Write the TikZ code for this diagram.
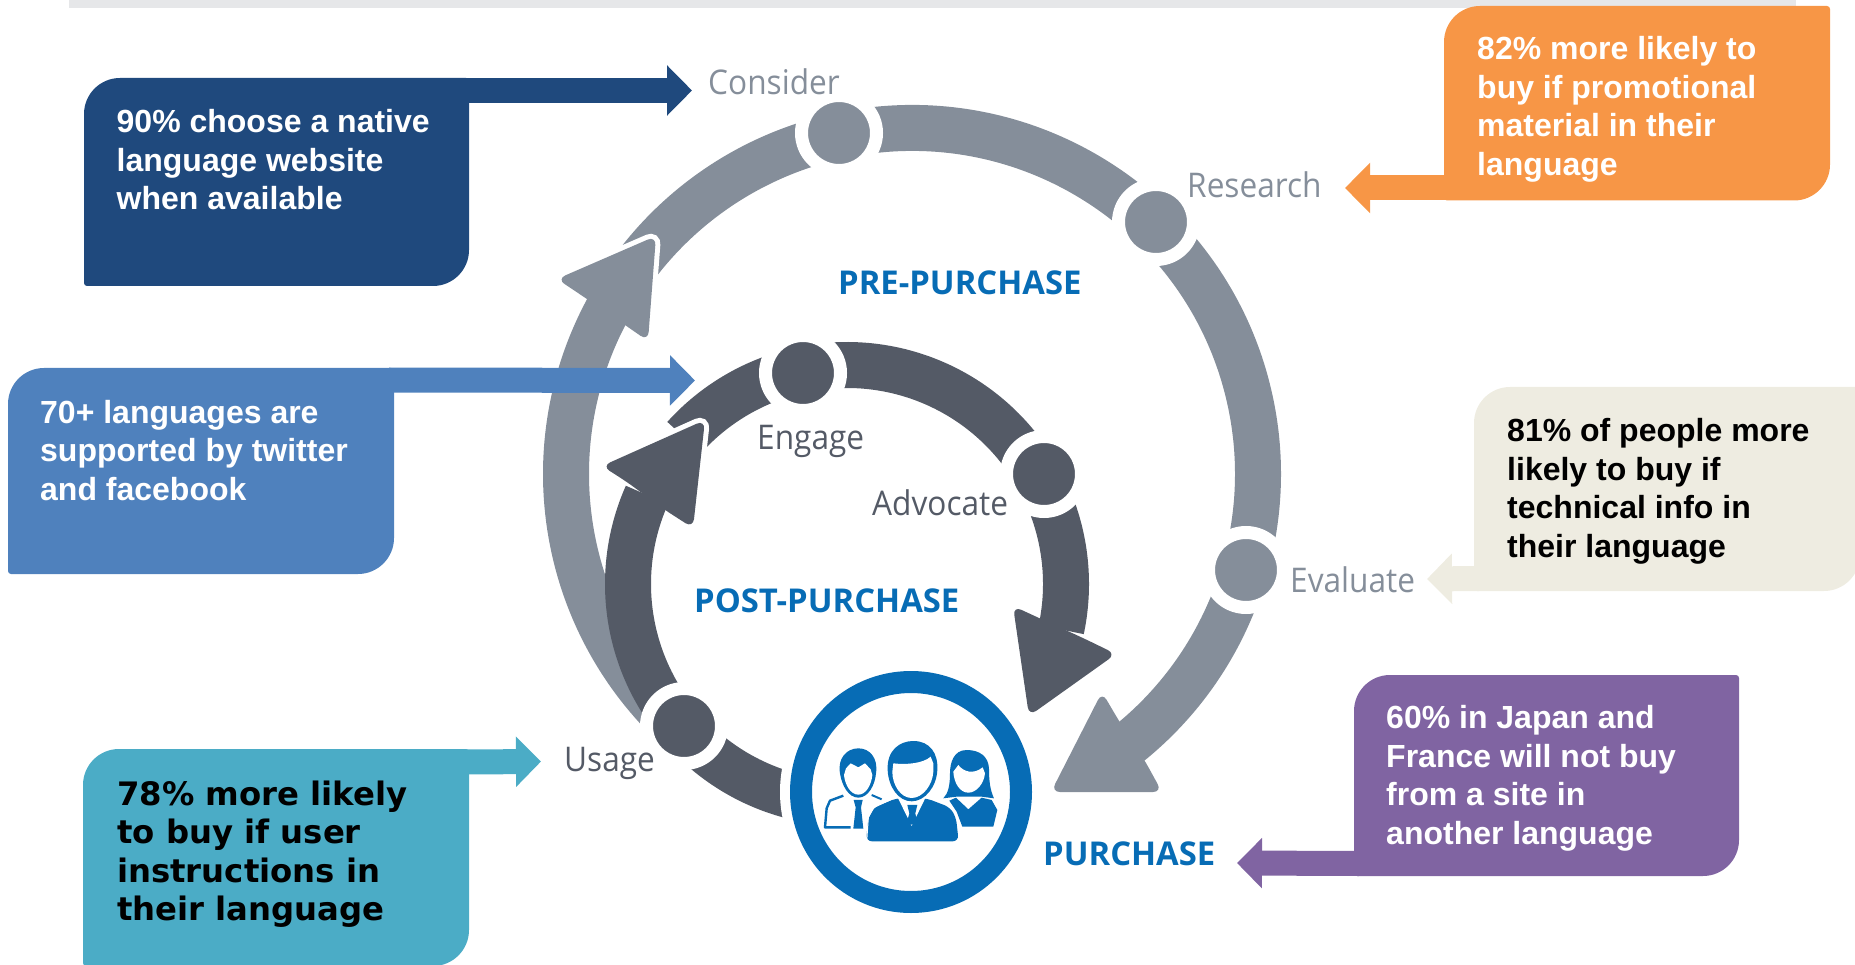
\documentclass[tikz,border=0pt]{standalone}
\usepackage{fontspec}
\setmainfont{Liberation Sans}
\newfontfamily\labfont{Open Sans}
\newfontfamily\lablight[FakeStretch=0.93]{Open Sans}
\newfontfamily\vfont{DejaVu Sans}
\usetikzlibrary{arrows.meta,calc}
\definecolor{ringO}{HTML}{858E9A}
\definecolor{ringI}{HTML}{545A66}
\definecolor{pblue}{HTML}{076CB5}
\definecolor{cnavy}{HTML}{1F497D}
\definecolor{csky}{HTML}{4F81BD}
\definecolor{cteal}{HTML}{4BACC6}
\definecolor{corange}{HTML}{F79646}
\definecolor{cbeige}{HTML}{EEECE1}
\definecolor{cpurple}{HTML}{8064A2}
\tikzset{
  bandO/.style={draw=ringO,line width=46pt,line cap=butt},
  bandI/.style={draw=ringI,line width=46pt,line cap=butt},
  dotO/.style={circle,fill=ringO,draw=white,line width=13pt,minimum size=75pt,inner sep=0pt,outer sep=0pt},
  dotI/.style={circle,fill=ringI,draw=white,line width=13pt,minimum size=75pt,inner sep=0pt,outer sep=0pt},
  heada/.style={rounded corners=9pt},
  boxtext/.style={anchor=north west,align=left,inner sep=0pt,font=\bfseries\fontsize{32}{38.5}\selectfont},
  steplabel/.style={anchor=base west,inner sep=0pt,font=\lablight\fontsize{34}{40}\selectfont},
  phase/.style={anchor=base west,inner sep=0pt,text=pblue,font=\labfont\bfseries\fontsize{32.8}{38}\selectfont},
  callarrow/.style={line width=25pt,-{Triangle[length=25pt,width=49pt,inset=0pt]}}
}
% \callbox{name}{x1}{y1}{x2}{y2}{colour}: big radius top-left and bottom-right
\newcommand{\callbox}[6]{%
  \fill[#6] (#2+36,#3) -- (#4-3,#3) arc[start angle=-90,end angle=0,radius=3] -- (#4,#5-36)
    arc[start angle=0,end angle=90,radius=36] -- (#2+3,#5)
    arc[start angle=90,end angle=180,radius=3] -- (#2,#3+36)
    arc[start angle=180,end angle=270,radius=36] -- cycle;
  \coordinate (#1NW) at (#2,#3);
  \coordinate (#1NE) at (#4,#3);
  \coordinate (#1SW) at (#2,#5);
  \coordinate (#1SE) at (#4,#5);
}
\begin{document}
\begin{tikzpicture}[x=1pt,y=-1pt]
\useasboundingbox (0,0) rectangle (1855,965);
% top bar
\fill[fill={rgb,255:red,230;green,231;blue,233}] (69,0) rectangle (1796,8);

% ring centres and dots' positions
\coordinate (co) at (912,474);
\coordinate (ci) at (847,584);
\coordinate (pConsider) at (839,133);
\coordinate (pResearch) at (1156,222);
\coordinate (pEvaluate) at (1246,570);
\coordinate (pEngage) at (803,373);
\coordinate (pAdvocate) at (1044,474);
\coordinate (pUsage) at (684,726);
\coordinate (pPurchase) at (911,792);

% outer ring
\draw[bandO] ([shift={(co)}]-102:346) arc[start angle=-102,end angle=51,radius=346];
\draw[bandO] ([shift={(co)}]258:346) arc[start angle=258,end angle=217,radius=346];
\filldraw[heada,fill=ringO,draw=white,line width=10pt] (584,297) -- (557,279) -- (656,236) -- (648,341) -- (625,325) -- cycle;
\draw[bandO] ([shift={(co)}]209:346) arc[start angle=209,end angle=137,radius=346];
\fill[heada,ringO] (584,297) -- (557,279) -- (656,236) -- (648,341) -- (625,325) -- cycle;
\fill[heada,ringO] (1119,721) -- (1102,692) -- (1051,792) -- (1162,792) -- (1145,761) -- cycle;

% inner ring
\draw[bandI] ([shift={(ci)}]258:219) arc[start angle=258,end angle=372,radius=219];
\fill[heada,ringI] (1039,618) -- (1013,606) -- (1029,716) -- (1116,654) -- (1083,638) -- cycle;
\draw[bandI] ([shift={(ci)}]258:219) arc[start angle=258,end angle=222,radius=219];
\filldraw[heada,fill=ringI,draw=white,line width=10pt] (627,482) -- (602,466) -- (705,420) -- (693,528) -- (665,510) -- cycle;
\draw[bandI] ([shift={(ci)}]204:219) arc[start angle=204,end angle=104,radius=219];
\fill[heada,ringI] (627,482) -- (602,466) -- (705,420) -- (693,528) -- (665,510) -- cycle;

% white halo and ring of the purchase circle
\fill[white] (pPurchase) circle (131);
\node[circle,draw=pblue,fill=white,line width=22pt,minimum size=220pt,inner sep=0pt,outer sep=0pt] (purchase) at (pPurchase) {};

% step dots
\node[dotO] (consider) at (pConsider) {};
\node[dotO] (research) at (pResearch) {};
\node[dotO] (evaluate) at (pEvaluate) {};
\node[dotI] (engage) at (pEngage) {};
\node[dotI] (advocate) at (pAdvocate) {};
\node[dotI] (usage) at (pUsage) {};

% people icon
\begin{scope}[shift={(810,730)},x=0.3333pt,y=-0.3333pt]
  % left man
  \fill[pblue] (145,203) .. controls (115,203) and (95,165) .. (90,130)
     .. controls (82,85) and (110,55) .. (145,55) .. controls (180,55) and (205,85) .. (198,130)
     .. controls (195,165) and (175,203) .. (145,203) -- cycle;
  \fill[white] (145,194) .. controls (122,194) and (105,165) .. (102,135) -- (108,115) -- (122,100) -- (145,112) -- (165,100) -- (182,118) -- (187,135)
     .. controls (184,165) and (168,194) .. (145,194) -- cycle;
  \draw[pblue,line width=2.4pt,line join=round] (100,197) -- (60,212) -- (50,235) -- (45,292) -- (122,292);
  \draw[pblue,line width=2pt] (185,195) -- (215,208);
  \fill[pblue] (131,210) -- (158,210) -- (153,232) -- (160,296) -- (130,296) -- (137,232) -- cycle;
  % woman
  \fill[pblue] (470,60) .. controls (430,60) and (420,100) .. (420,130) .. controls (420,165) and (415,190) .. (400,205)
     -- (440,200) -- (515,200) -- (552,205) .. controls (540,180) and (537,150) .. (537,115) .. controls (535,80) and (510,60) .. (470,60) -- cycle;
  \fill[white] (475,188) .. controls (450,188) and (432,160) .. (430,125) -- (445,105) .. controls (460,125) and (490,135) .. (518,112) -- (525,130) .. controls (522,160) and (500,188) .. (475,188) -- cycle;
  \fill[pblue] (418,212) -- (438,203) -- (475,238) -- (515,203) -- (545,210) -- (562,240) -- (550,290) -- (457,290) -- (440,245) -- cycle;
  % centre man
  \fill[pblue,rounded corners=6pt] (168,334) -- (175,262) -- (192,232) -- (258,205) -- (350,205) -- (420,232) -- (438,262) -- (446,334) -- cycle;
  \fill[white] (262,200) -- (348,200) -- (305,288) -- cycle;
  \fill[pblue] (292,225) -- (322,225) -- (316,250) -- (322,280) -- (306,284) -- (290,280) -- (298,250) -- cycle;
  \draw[white,line width=1pt] (170,335) -- (175,262) -- (192,232) -- (258,202);
  \fill[pblue] (305,214) .. controls (265,214) and (235,170) .. (233,120) .. controls (230,60) and (270,33) .. (310,33)
     .. controls (360,33) and (385,70) .. (382,120) .. controls (380,170) and (345,214) .. (305,214) -- cycle;
  \fill[white] (305,204) .. controls (272,204) and (247,165) .. (247,125) -- (250,100) .. controls (290,105) and (340,100) .. (362,80) -- (370,100) -- (370,125) .. controls (368,165) and (338,204) .. (305,204) -- cycle;
\end{scope}

% callouts
\callbox{a}{84}{78}{469}{286}{cnavy}
\coordinate (aTip) at (692,90.5);
\draw[callarrow,cnavy] ($(aNE)+(-5,12.5)$) -- (aTip);
\node[boxtext,text=white] (ta) at (116.5,109.5) {90\% choose a native\\language website\\when available};

\callbox{b}{8}{368}{394}{574}{csky}
\coordinate (bTip) at (695,380.5);
\draw[callarrow,csky] ($(bNE)+(-5,12)$) -- (bTip);
\node[boxtext,text=white] (tb) at (40,400) {70+ languages are\\supported by twitter\\and facebook};

\callbox{c}{83}{749}{469}{966}{cteal}
\coordinate (cTip) at (541,761.5);
\draw[callarrow,cteal] ($(cNE)+(-5,13)$) -- (cTip);
\node[boxtext,text=black,font=\vfont\bfseries\fontsize{32.3}{38.4}\selectfont] (tc) at (117,780.5) {78\% more likely\\to buy if user\\instructions in\\their language};

\callbox{d}{1444}{6}{1830}{200.5}{corange}
\coordinate (dTip) at (1345,188);
\draw[callarrow,corange] ($(dSW)+(5,-12.5)$) -- (dTip);
\node[boxtext,text=white] (td) at (1477,36.5) {82\% more likely to\\buy if promotional\\material in their\\language};

\callbox{e}{1474}{387}{1860}{591}{cbeige}
\coordinate (eTip) at (1427,579);
\draw[callarrow,cbeige] ($(eSW)+(5,-12.5)$) -- (eTip);
\node[boxtext,text=black] (te) at (1507,418.5) {81\% of people more\\likely to buy if\\technical info in\\their language};

\callbox{f}{1354}{675}{1739}{876}{cpurple}
\coordinate (fTip) at (1237,863);
\draw[callarrow,cpurple] ($(fSW)+(5,-12.5)$) -- (fTip);
\node[boxtext,text=white] (tf) at (1386,705.5) {60\% in Japan and\\France will not buy\\from a site in\\another language};

% labels
\node[steplabel,text=ringO] (lconsider) at (708,95) {Consider};
\node[steplabel,text=ringO] (lresearch) at (1187,198) {Research};
\node[steplabel,text=ringO] (levaluate) at (1290,592) {Evaluate};
\node[steplabel,text=ringI] (lengage) at (757,449) {Engage};
\node[steplabel,text=ringI] (ladvocate) at (872,515) {Advocate};
\node[steplabel,text=ringI] (lusage) at (564,771) {Usage};
\node[phase] (lpre) at (838,294.5) {PRE-PURCHASE};
\node[phase] (lpost) at (694,612.5) {POST-PURCHASE};
\node[phase] (lpur) at (1043,865.5) {PURCHASE};
\end{tikzpicture}
\end{document}
